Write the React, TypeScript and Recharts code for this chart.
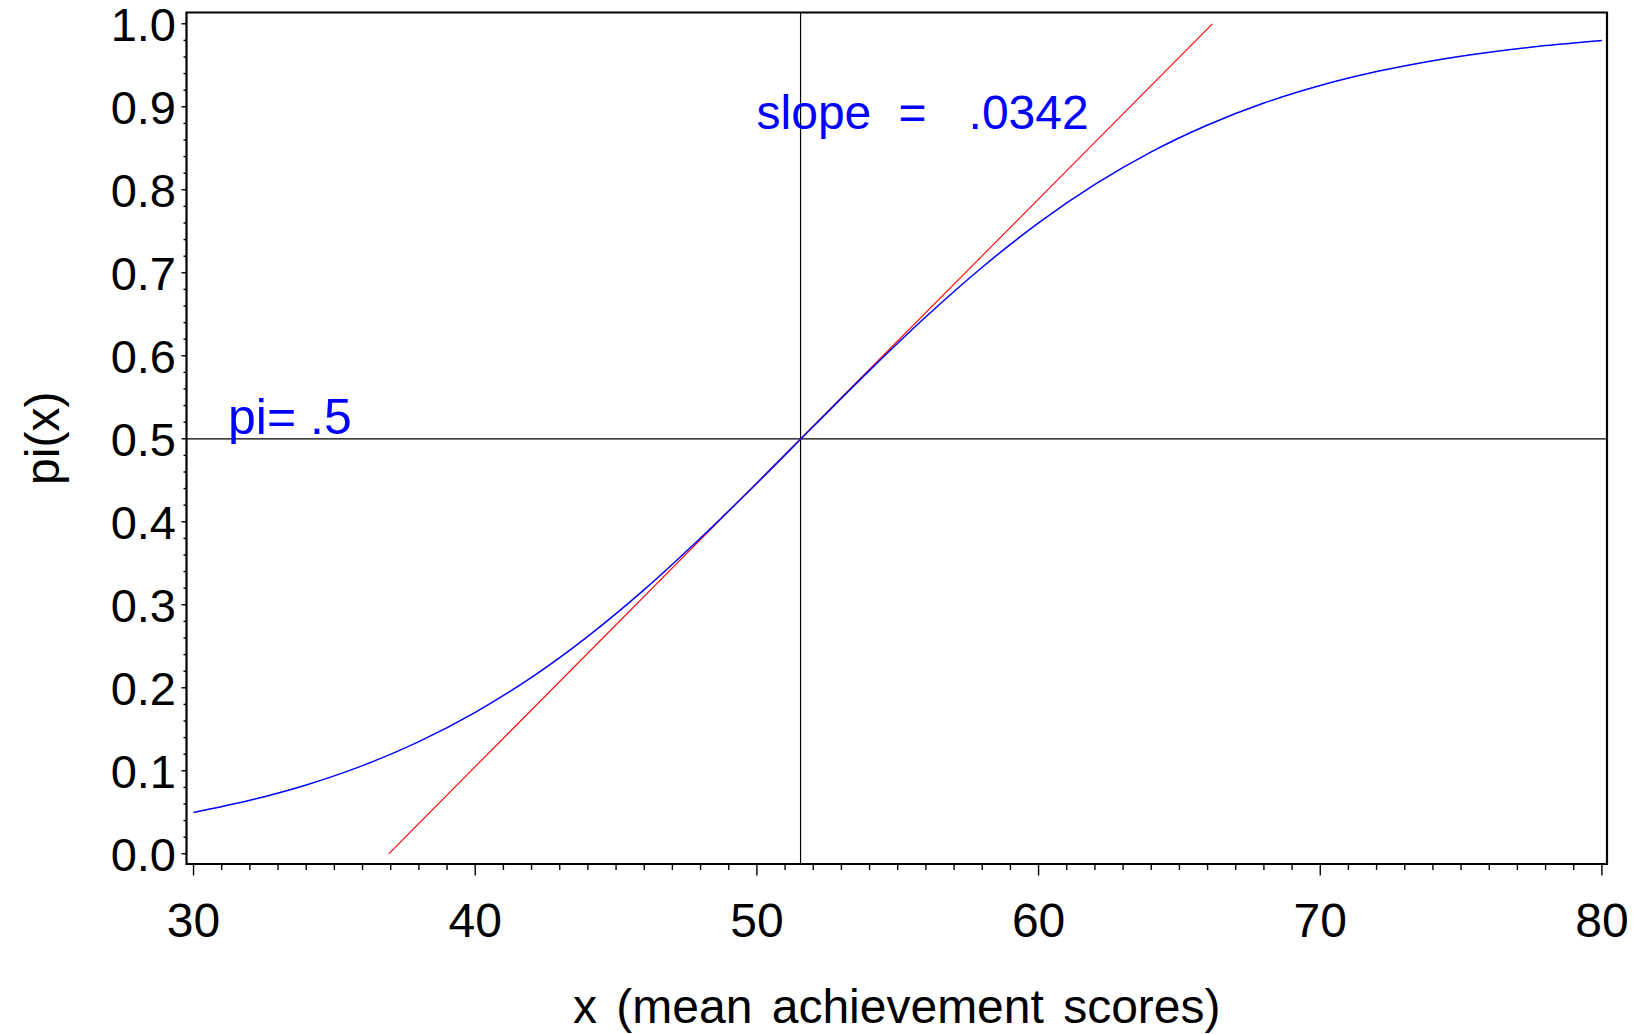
import { ComposedChart, Line, XAxis, YAxis, ReferenceLine, ReferenceArea } from 'recharts';

// fitted probability curve
const xValues = [30, 32, 34, 36, 38, 40, 42, 44, 46, 48, 50, 52, 54, 56, 58, 60, 62, 64, 66, 68, 70, 72, 74, 76, 78, 80];
const piValues = [
  0.0497, 0.0644, 0.0829, 0.1062, 0.1351, 0.1704, 0.2126, 0.262, 0.3182, 0.3804, 0.4465, 0.5147, 0.5824,
  0.647, 0.7067, 0.7601, 0.8064, 0.8456, 0.878, 0.9045, 0.9256, 0.9424, 0.9556, 0.9658, 0.9738, 0.98,
];

// tangent line at pi = .5
const tangentX = [36.93, 66.17];
const tangentPi = [0, 1.0];

const midX = 51.55;
const midPi = 0.5;
const slopeLabel = '.0342';
const midLabel = 'pi= .5';

const xTitle = 'x (mean achievement scores)';
const yTitle = 'pi(x)';

const xDomain: [number, number] = [29.75, 80.18];
const yDomain: [number, number] = [-0.0123, 1.0136];

const xTicks = Array.from({ length: 51 }, (_, i) => 30 + i);
const yTicks = Array.from({ length: 51 }, (_, i) => (i * 2) / 100);

const curveData = xValues.map((x, i) => ({ x, pi: piValues[i] }));
const tangentData = tangentX.map((x, i) => ({ x, pi: tangentPi[i] }));

const FONT = '"Liberation Sans", Arial, Helvetica, sans-serif';
const BLUE = '#0000ff';

function XTick(props: any) {
  const { x, y, payload } = props;
  const v = payload.value;
  const major = v % 10 === 0;
  return (
    <g>
      <line x1={x} x2={x} y1={y} y2={y + (major ? 11.5 : 6)} stroke="#000" strokeWidth={1.4} />
      {major && (
        <text x={x} y={y + 72.5} textAnchor="middle" fontSize={48} fontFamily={FONT} fill="#000">
          {v}
        </text>
      )}
    </g>
  );
}

function YTick(props: any) {
  const { x, y, payload } = props;
  const v = payload.value;
  const major = Math.round(v * 100) % 10 === 0;
  return (
    <g>
      <line x1={x - (major ? 5 : 3)} x2={x} y1={y} y2={y} stroke="#000" strokeWidth={1.4} />
      {major && (
        <text x={x - 10.5} y={y + 17} textAnchor="end" fontSize={47} fontFamily={FONT} fill="#000">
          {v.toFixed(1)}
        </text>
      )}
    </g>
  );
}

function App() {
  return (
    <div style={{ position: 'absolute', left: 0, top: 0 }}>
      <ComposedChart
        width={1642}
        height={1034}
        data={curveData}
        margin={{ top: 12.5, right: 35, bottom: 0, left: 0 }}
        style={{ fontFamily: FONT, background: '#fff' }}
      >
        <XAxis
          dataKey="x"
          type="number"
          domain={xDomain}
          allowDataOverflow
          ticks={xTicks}
          interval={0}
          height={170}
          axisLine={false}
          tickLine={false}
          tickSize={0}
          tickMargin={0}
          tick={<XTick />}
          label={{
            content: (p: any) => {
              const vb = p.viewBox || { x: 186.5, y: 864, width: 1420.5, height: 170 };
              return (
                <text
                  x={vb.x + vb.width / 2}
                  y={vb.y + 159}
                  textAnchor="middle"
                  fontSize={48}
                  fontFamily={FONT}
                  fill="#000"
                  style={{ wordSpacing: 6 }}
                >
                  {xTitle}
                </text>
              );
            },
          }}
        />
        <YAxis
          type="number"
          domain={yDomain}
          allowDataOverflow
          ticks={yTicks}
          interval={0}
          width={186.5}
          axisLine={false}
          tickLine={false}
          tickSize={0}
          tickMargin={0}
          tick={<YTick />}
          label={{
            content: (p: any) => {
              const vb = p.viewBox || { x: 0, y: 12.5, width: 186.5, height: 851.5 };
              const cy = vb.y + vb.height / 2;
              return (
                <text
                  x={59}
                  y={cy}
                  transform={`rotate(-90, 59, ${cy})`}
                  textAnchor="middle"
                  fontSize={48}
                  fontFamily={FONT}
                  fill="#000"
                >
                  {yTitle}
                </text>
              );
            },
          }}
        />
        <ReferenceLine
          x={midX}
          stroke="#000"
          strokeWidth={1.2}
          label={{
            content: (p: any) => {
              const vb = p.viewBox || { x: 800, y: 12.5 };
              const x0 = vb.x - 44;
              const y0 = vb.y + 116.5;
              return (
                <text y={y0} fontSize={48} fontFamily={FONT} fill={BLUE}>
                  <tspan x={x0}>slope</tspan>
                  <tspan x={x0 + 142}>=</tspan>
                  <tspan x={x0 + 212}>{slopeLabel}</tspan>
                </text>
              );
            },
          }}
        />
        <ReferenceLine
          y={midPi}
          stroke="#000"
          strokeWidth={1.2}
          label={{
            content: (p: any) => {
              const vb = p.viewBox || { x: 186.5, y: 438.8 };
              return (
                <text x={vb.x + 41.5} y={vb.y - 5} fontSize={50} fontFamily={FONT} fill={BLUE}>
                  {midLabel}
                </text>
              );
            },
          }}
        />
        <Line
          data={tangentData}
          dataKey="pi"
          type="linear"
          stroke="#ff0000"
          strokeWidth={1.1}
          dot={false}
          activeDot={false}
          isAnimationActive={false}
        />
        <Line
          dataKey="pi"
          type="monotone"
          stroke={BLUE}
          strokeWidth={1.5}
          dot={false}
          activeDot={false}
          isAnimationActive={false}
        />
        <ReferenceArea
          x1={xDomain[0]}
          x2={xDomain[1]}
          y1={yDomain[0]}
          y2={yDomain[1]}
          fill="none"
          stroke="#000"
          strokeWidth={2.2}
          ifOverflow="visible"
        />
      </ComposedChart>
    </div>
  );
}

export default App;
